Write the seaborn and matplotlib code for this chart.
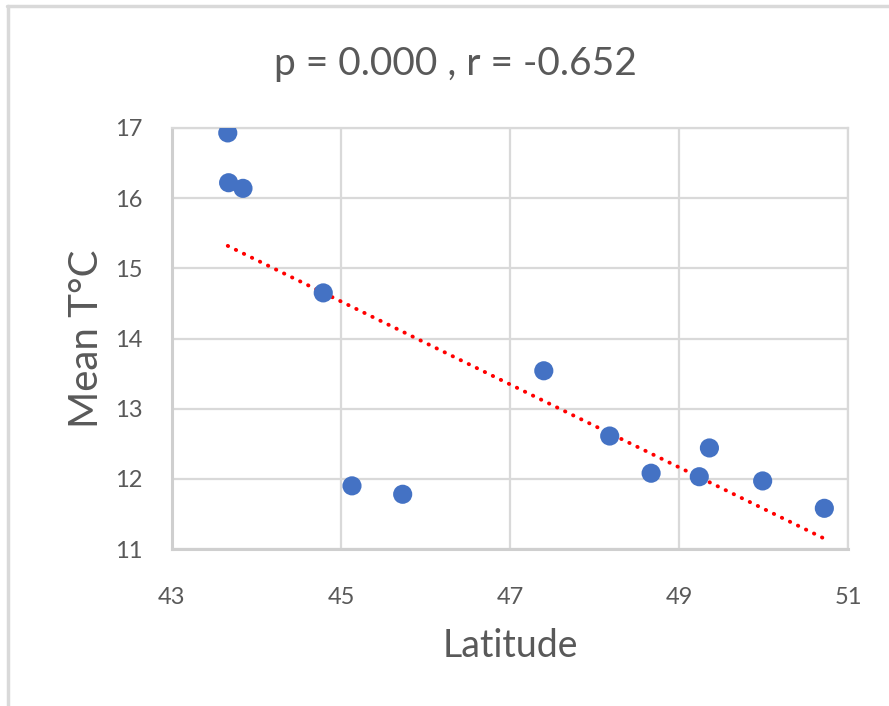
import numpy as np
import pandas as pd
import matplotlib
matplotlib.use("Agg")
import matplotlib.pyplot as plt
import seaborn as sns
from matplotlib.lines import Line2D

latitude = [43.66, 43.67, 43.84, 44.79, 45.13, 45.73, 47.40, 48.18, 48.67, 49.24, 49.36, 49.99, 50.72]
mean_temp = [16.93, 16.22, 16.14, 14.65, 11.90, 11.78, 13.54, 12.61, 12.08, 12.03, 12.44, 11.97, 11.58]
x_ticks = [43, 45, 47, 49, 51]
y_ticks = [11, 12, 13, 14, 15, 16, 17]
title = "p = 0.000 , r = -0.652"

df = pd.DataFrame({"Latitude": latitude, "Mean T°C": mean_temp})

sns.set_theme(style="white")
plt.rcParams["font.family"] = ["Lato", "DejaVu Sans"]

fig = plt.figure(figsize=(8.89, 7.06), dpi=100)
ax = fig.add_axes([172 / 889, 1 - 549 / 706, (848 - 172) / 889, (549 - 128) / 706])

grid_c = "#d9d9d9"
text_c = "#595959"

sns.regplot(data=df, x="Latitude", y="Mean T°C", ax=ax, ci=None, scatter=False,
            truncate=True,
            line_kws=dict(color="#ff0000", lw=2.8, linestyle=(0, (0.1, 2.2)),
                          dash_capstyle="round", zorder=3))
sns.scatterplot(data=df, x="Latitude", y="Mean T°C", ax=ax, color="#4472c4",
                s=190, edgecolor="none", zorder=4)

ax.set_xlim(43, 51)
ax.set_ylim(11, 17)
ax.set_xticks(x_ticks)
ax.set_yticks(y_ticks)
ax.grid(True, color=grid_c, lw=1.6)
ax.set_axisbelow(True)
for s in ax.spines.values():
    s.set_color(grid_c)
    s.set_linewidth(1.6)
ax.spines["left"].set_linewidth(2.2)
ax.spines["bottom"].set_linewidth(2.2)
ax.spines["left"].set_color("#cfcfcf")
ax.spines["bottom"].set_color("#cfcfcf")
ax.tick_params(axis="both", length=0, labelsize=17, labelcolor=text_c)
ax.tick_params(axis="x", pad=27)
ax.tick_params(axis="y", pad=21)

ax.set_xlabel("Latitude", fontsize=27, color=text_c, labelpad=15)
ax.set_ylabel("Mean T°C", fontsize=29, color=text_c, labelpad=7)

fig.text(455 / 889, 1 - 64 / 706, title, ha="center", va="center",
         fontsize=28, color=text_c)

# outer chart border (top and left visible)
fig.add_artist(Line2D([7 / 889, 1], [1 - 6 / 706, 1 - 6 / 706], color=grid_c, lw=2.5,
                      transform=fig.transFigure))
fig.add_artist(Line2D([8 / 889, 8 / 889], [1 - 6 / 706, 0], color=grid_c, lw=2.5,
                      transform=fig.transFigure))

fig.savefig("out.png", dpi=100, facecolor="white")
